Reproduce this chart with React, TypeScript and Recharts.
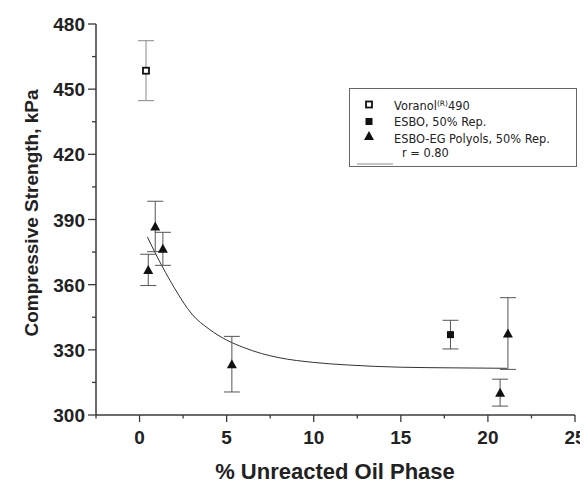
import React from 'react';
import { ComposedChart, Scatter, Line, XAxis, YAxis, ErrorBar } from 'recharts';

// readings taken off the reference figure
const voranolX = [0.37];
const voranolY = [458.5];
const voranolErr = [13.8];

const esboX = [17.85];
const esboY = [337];
const esboErr = [6.6];

const esboEgX = [0.5, 0.9, 1.34, 5.3, 20.7, 21.15];
const esboEgY = [366.8, 386.8, 376.5, 323.4, 310.3, 337.5];
const esboEgErr = [7.2, 11.6, 7.6, 12.8, 6.2, 16.5];

// fitted curve (r = 0.80)
const fitX = [0.45, 1, 1.5, 2, 3, 4, 5, 6, 7, 8, 10, 12, 15, 18, 21.1];
const fitY = [382, 373, 365.5, 358.5, 346.5, 339.5, 334.5, 331, 328.3, 326.4, 324.2, 323, 322, 321.7, 321.5];

const xTicks = [-2.5, 0, 2.5, 5, 7.5, 10, 12.5, 15, 17.5, 20, 22.5, 25];
const yTicks = [300, 315, 330, 345, 360, 375, 390, 405, 420, 435, 450, 465, 480];

const zip = (xs: number[], ys: number[], es?: number[]) =>
  xs.map((x, i) => ({ x, y: ys[i], err: es ? es[i] : 0 }));

const voranol = zip(voranolX, voranolY, voranolErr);
const esbo = zip(esboX, esboY, esboErr);
const esboEg = zip(esboEgX, esboEgY, esboEgErr);
const fit = zip(fitX, fitY);

const AXIS = '#3a3a3a';
const FONT = '"Liberation Sans", Arial, sans-serif';
const TICK_FONT = { fontFamily: FONT, fontWeight: 700, fontSize: 19, fill: '#222' };

const XTick = (props: any) => {
  const { x, y, payload } = props;
  const major = payload.value % 5 === 0;
  return (
    <g>
      <line x1={x} x2={x} y1={y} y2={y + (major ? 7 : 3.5)} stroke={AXIS} strokeWidth={1.3} />
      {major && (
        <text x={x} y={y + 28.5} textAnchor="middle" {...TICK_FONT}>{payload.value}</text>
      )}
    </g>
  );
};

const YTick = (props: any) => {
  const { x, y, payload } = props;
  const major = payload.value % 30 === 0;
  return (
    <g>
      <line x1={x - (major ? 8 : 4)} x2={x} y1={y} y2={y} stroke={AXIS} strokeWidth={1.3} />
      {major && (
        <text x={x - 11} y={y + 7} textAnchor="end" {...TICK_FONT}>{payload.value}</text>
      )}
    </g>
  );
};

const openSquare = (p: any) => (
  <rect x={p.cx - 3} y={p.cy - 3} width={6} height={6} fill="#fff" stroke="#111" strokeWidth={1.8} />
);
const filledSquare = (p: any) => (
  <rect x={p.cx - 3.5} y={p.cy - 3.5} width={7} height={7} fill="#111" />
);
const triangle = (p: any) => (
  <polygon points={`${p.cx},${p.cy - 5} ${p.cx - 5},${p.cy + 4} ${p.cx + 5},${p.cy + 4}`} fill="#111" />
);

// axis titles drawn in chart space
const XTitle = (props: any) => {
  const vb = props.viewBox;
  return (
    <text x={vb.x + vb.width / 2 - 0.5} y={vb.y + 63.5} textAnchor="middle" fontFamily={FONT} fontWeight={700} fontSize={22} fill="#222">
      % Unreacted Oil Phase
    </text>
  );
};
const YTitle = () => (
  <text x={0} y={0} transform="translate(23,205) rotate(-90)" textAnchor="middle" dominantBaseline="central" fontFamily={FONT} fontWeight={700} fontSize={19} fill="#222">
    Compressive Strength, kPa
  </text>
);

const legendRow: React.CSSProperties = { position: 'absolute', left: 44, whiteSpace: 'nowrap', lineHeight: '14px' };

export default function App() {
  return (
    <div style={{ position: 'relative', width: 580, height: 475 }}>
      <style>{'html,body{overflow:hidden}.recharts-surface{display:block}'}</style>
      <ComposedChart width={580} height={475} margin={{ top: 16, right: 13, bottom: 0, left: 0 }}>
        <XAxis
          type="number"
          dataKey="x"
          domain={[-2.5, 25]}
          ticks={xTicks}
          interval={0}
          allowDataOverflow
          height={68}
          tickSize={0}
          tickMargin={0}
          tickLine={false}
          tick={<XTick />}
          axisLine={{ stroke: AXIS, strokeWidth: 1.5 }}
          label={<XTitle />}
        />
        <YAxis
          type="number"
          dataKey="y"
          domain={[300, 480]}
          ticks={yTicks}
          interval={0}
          allowDataOverflow
          width={88}
          tickSize={0}
          tickMargin={0}
          tickLine={false}
          tick={<YTick />}
          axisLine={{ stroke: AXIS, strokeWidth: 1.5 }}
          label={<YTitle />}
        />
        <Line data={fit} dataKey="y" type="monotone" stroke="#333" strokeWidth={1} dot={false} activeDot={false} isAnimationActive={false} />
        <Scatter data={voranol} dataKey="y" shape={openSquare} isAnimationActive={false}>
          <ErrorBar dataKey="err" direction="y" width={8} stroke="#888" strokeWidth={1} isAnimationActive={false} />
        </Scatter>
        <Scatter data={esbo} dataKey="y" shape={filledSquare} isAnimationActive={false}>
          <ErrorBar dataKey="err" direction="y" width={8} stroke="#555" strokeWidth={1} isAnimationActive={false} />
        </Scatter>
        <Scatter data={esboEg} dataKey="y" shape={triangle} isAnimationActive={false}>
          <ErrorBar dataKey="err" direction="y" width={8} stroke="#555" strokeWidth={1} isAnimationActive={false} />
        </Scatter>
      </ComposedChart>

      <div
        style={{
          position: 'absolute', left: 341, top: 80, width: 228, height: 79,
          border: '1px solid #666', boxSizing: 'border-box', background: '#fff',
          fontFamily: '"DejaVu Sans", Verdana, sans-serif', fontSize: 11.4, color: '#222',
        }}
      >
        <svg style={{ position: 'absolute', left: 0, top: 0 }} width={228} height={79}>
          <rect x={16} y={12.5} width={6} height={6} fill="#fff" stroke="#111" strokeWidth={1.8} />
          <rect x={15.5} y={29} width={7} height={7} fill="#111" />
          <polygon points="19,42 14,51 24,51" fill="#111" />
          <line x1={7} x2={43} y1={75} y2={75} stroke="#888" strokeWidth={1} />
        </svg>
        <div style={{ ...legendRow, top: 8 }}>
          Voranol<sup style={{ fontSize: 7.5, verticalAlign: 4 }}>(R)</sup>490
        </div>
        <div style={{ ...legendRow, top: 26 }}>ESBO, 50% Rep.</div>
        <div style={{ ...legendRow, top: 43 }}>ESBO-EG Polyols, 50% Rep.</div>
        <div style={{ ...legendRow, top: 57, left: 52 }}>r = 0.80</div>
      </div>
    </div>
  );
}
